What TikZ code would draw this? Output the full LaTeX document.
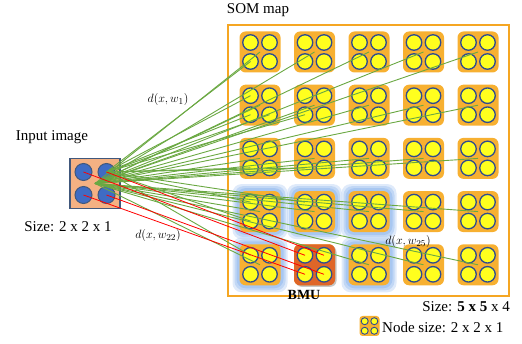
\documentclass[tikz,border=0pt]{standalone}
\usepackage{fontspec}
\setmainfont{Liberation Serif}
\usepackage{amsmath}
\usepackage{tikz}
\usetikzlibrary{calc}
\usetikzlibrary{shadows}
\definecolor{somorange}{HTML}{F7B031}
\definecolor{framerim}{HTML}{F5A623}
\definecolor{cellfill}{HTML}{FFFF1E}
\definecolor{cellrim}{HTML}{2E4C8F}
\definecolor{pixfill}{HTML}{F4B183}
\definecolor{pixrim}{HTML}{41587C}
\definecolor{pixblue}{HTML}{3F6CC4}
\definecolor{linkgreen}{HTML}{6AA842}
\definecolor{glowblue}{HTML}{94BAEE}
\definecolor{bmuorange}{HTML}{DF6628}
\tikzstyle{unit} = [draw=none, fill=somorange, rounded corners=6pt, minimum size=41pt, inner sep=0]
\tikzstyle{bmu} = [unit, fill=bmuorange, drop shadow={opacity=0.45, shadow xshift=1.5pt, shadow yshift=-1.5pt}]
\tikzstyle{cell} = [circle, draw=cellrim, fill=cellfill, line width=1.3pt, minimum size=15.5pt, inner sep=0]
\tikzstyle{minicell} = [cell, minimum size=7pt, line width=0.9pt]
\tikzstyle{pix} = [circle, draw=pixrim, fill=pixblue, line width=1pt, minimum size=17pt, inner sep=0]
\tikzstyle{glow} = [draw=none, fill=glowblue, rounded corners=9pt, inner sep=0]
\tikzstyle{link} = [-, draw=linkgreen, line width=0.9pt]
\tikzstyle{hit} = [-, draw=red, line width=0.8pt]
\tikzstyle{lbl} = [draw=none, inner sep=0, font=\fontsize{15}{17}\selectfont]
\tikzstyle{dist} = [draw=none, inner sep=0, font=\fontsize{12.5}{14}\selectfont]

\begin{document}
\begin{tikzpicture}[x=1pt, y=-1pt]
\useasboundingbox (0,0) rectangle (522,344);

% map frame
\node [draw=framerim, line width=1.3pt, inner sep=0, minimum width=281pt, minimum height=271pt] (map) at (368.5,160.5) {};
\node [lbl] (title) at (258,10) {SOM map};

% neighbourhood glow around the winner
\foreach \r/\c in {4/1, 4/2, 4/3, 5/1, 5/3}
  \foreach \s/\o in {55/0.3, 51/0.4, 47/0.55}
    \node [glow, minimum size=\s pt, opacity=\o] at ({205.5+54.5*\c},{-1.2+53.2*\r}) {};

% 5 x 5 grid of units
\foreach \r in {1,...,5}
  \foreach \c in {1,...,5}
    \node [unit] (n-\r-\c) at ({205.5+54.5*\c},{-1.2+53.2*\r}) {};
\node [bmu] (n-5-2) at (n-5-2) {};

% four weights per unit
\foreach \r in {1,...,5}
  \foreach \c in {1,...,5} {
    \node [cell] (n-\r-\c-a) at ($(n-\r-\c.center)+(-9.5,-9.5)$) {};
    \node [cell] (n-\r-\c-b) at ($(n-\r-\c.center)+(9.5,-9.5)$) {};
    \node [cell] (n-\r-\c-c) at ($(n-\r-\c.center)+(-9.5,9.5)$) {};
    \node [cell] (n-\r-\c-d) at ($(n-\r-\c.center)+(9.5,9.5)$) {};
  }

% input image
\node [draw=pixrim, fill=pixfill, line width=1.4pt, minimum size=50pt, inner sep=0] (in) at (95,183.5) {};
\node [pix] (in-a) at ($(in.center)+(-11.5,-11.5)$) {};
\node [pix] (in-b) at ($(in.center)+(11.5,-11.5)$) {};
\node [pix] (in-c) at ($(in.center)+(-11.5,11.5)$) {};
\node [pix] (in-d) at ($(in.center)+(11.5,11.5)$) {};
\node [lbl] (inlbl) at (52,137) {Input image};
\node [lbl] (insize) at (68,227) {Size: 2 x 2 x 1};

% distances to every unit
\foreach \r/\c in {1/1,1/2,1/3,1/4,1/5, 2/1,2/2,2/3,2/4,2/5, 3/1,3/2,3/3,3/4,3/5,
                   4/1,4/2,4/3,4/4,4/5, 5/1,5/3,5/4,5/5}
  \draw [link] (in.center) -- (n-\r-\c.center);
\foreach \r/\c/\k in {1/1/c, 2/1/a, 2/1/c, 2/1/d, 3/1/c, 4/1/a, 4/1/c, 5/1/a, 2/2/c, 3/2/c, 4/2/a}
  \draw [link] (in-b.center) -- (n-\r-\c-\k.center);

% winner
\foreach \k in {a,b,c,d}
  \draw [hit] (in-\k.center) -- (n-5-2-\k.center);

\node [dist] (d1) at (168,100) {$d(x,w_1)$};
\node [dist] (d22) at (158,236) {$d(x,w_{22})$};
\node [dist] (d25) at (408,242) {$d(x,w_{25})$};
\node [draw=none, inner sep=0, font=\fontsize{14}{16}\selectfont\bfseries] (bmulbl) at (304,295) {BMU};

% legend
\node [lbl, anchor=east] (mapsize) at (510,307) {Size: \textbf{5 x 5} x 4};
\node [unit, minimum size=20pt, rounded corners=3pt] (key) at (369.5,326) {};
\node [minicell] at ($(key.center)+(-4.8,-4.8)$) {};
\node [minicell] at ($(key.center)+(4.8,-4.8)$) {};
\node [minicell] at ($(key.center)+(-4.8,4.8)$) {};
\node [minicell] at ($(key.center)+(4.8,4.8)$) {};
\node [lbl, anchor=west] (keylbl) at (382,327) {Node size: 2 x 2 x 1};
\end{tikzpicture}
\end{document}
